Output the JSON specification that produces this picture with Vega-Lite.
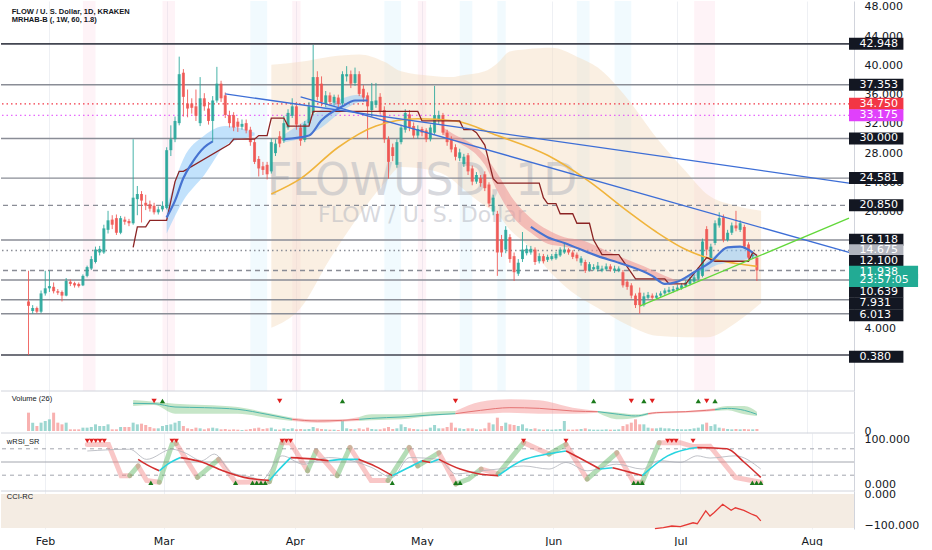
{
"$schema":"https://vega.github.io/schema/vega-lite/v6.json",
"padding":0,
"background":"white",
"spacing":0,
"bounds":"flush",
"resolve":{"scale":{"x":"independent","y":"independent"}},
"config":{"view":{"stroke":null},"axis":{"labelFont":"DejaVu Sans","labelFontSize":11,"labelColor":"#131722"}},
"datasets":{
"candles":[
{"d":"2021-01-27","o":7.7,"h":11.9,"l":0.38,"c":7.1,"v":55},
{"d":"2021-01-28","o":6.4,"h":7.2,"l":6.0,"c":6.8,"v":25},
{"d":"2021-01-29","o":6.8,"h":7.0,"l":6.1,"c":6.3,"v":15},
{"d":"2021-01-30","o":6.3,"h":9.2,"l":6.1,"c":8.8,"v":25},
{"d":"2021-01-31","o":8.8,"h":11.9,"l":8.5,"c":9.5,"v":30},
{"d":"2021-02-01","o":9.5,"h":11.9,"l":9.0,"c":9.8,"v":35},
{"d":"2021-02-02","o":9.7,"h":10.3,"l":8.8,"c":9.1,"v":55},
{"d":"2021-02-03","o":9.1,"h":9.4,"l":8.6,"c":8.9,"v":25},
{"d":"2021-02-04","o":9.0,"h":9.2,"l":7.7,"c":8.5,"v":20},
{"d":"2021-02-05","o":8.5,"h":10.9,"l":8.4,"c":10.5,"v":25},
{"d":"2021-02-06","o":10.4,"h":10.7,"l":9.8,"c":10.1,"v":5},
{"d":"2021-02-07","o":10.2,"h":10.4,"l":9.6,"c":9.9,"v":5},
{"d":"2021-02-08","o":10.1,"h":10.3,"l":9.6,"c":9.8,"v":5},
{"d":"2021-02-09","o":9.9,"h":11.4,"l":9.8,"c":11.2,"v":10},
{"d":"2021-02-10","o":11.2,"h":12.6,"l":11.0,"c":12.4,"v":10},
{"d":"2021-02-11","o":12.2,"h":13.9,"l":12.0,"c":13.5,"v":12},
{"d":"2021-02-12","o":13.1,"h":15.2,"l":12.9,"c":14.8,"v":20},
{"d":"2021-02-13","o":14.4,"h":15.3,"l":14.0,"c":14.9,"v":15},
{"d":"2021-02-14","o":14.4,"h":18.2,"l":14.2,"c":17.7,"v":15},
{"d":"2021-02-15","o":17.5,"h":20.1,"l":17.0,"c":18.8,"v":20},
{"d":"2021-02-16","o":18.9,"h":19.5,"l":17.6,"c":18.2,"v":5},
{"d":"2021-02-17","o":19.1,"h":19.6,"l":16.8,"c":17.1,"v":5},
{"d":"2021-02-18","o":17.1,"h":19.4,"l":16.9,"c":19.1,"v":12},
{"d":"2021-02-19","o":18.9,"h":19.3,"l":18.2,"c":18.6,"v":12},
{"d":"2021-02-20","o":18.7,"h":19.0,"l":18.0,"c":18.4,"v":12},
{"d":"2021-02-21","o":18.4,"h":29.9,"l":18.2,"c":21.9,"v":25},
{"d":"2021-02-22","o":21.7,"h":23.5,"l":19.5,"c":22.4,"v":20},
{"d":"2021-02-23","o":22.4,"h":22.8,"l":18.5,"c":21.5,"v":22},
{"d":"2021-02-24","o":21.2,"h":22.3,"l":20.2,"c":20.8,"v":18},
{"d":"2021-02-25","o":21.0,"h":21.5,"l":20.0,"c":20.4,"v":12},
{"d":"2021-02-26","o":20.8,"h":21.2,"l":19.6,"c":19.9,"v":8},
{"d":"2021-02-27","o":19.9,"h":20.7,"l":19.6,"c":20.3,"v":8},
{"d":"2021-02-28","o":20.3,"h":21.4,"l":20.0,"c":20.8,"v":15},
{"d":"2021-03-01","o":20.5,"h":28.8,"l":20.3,"c":28.4,"v":18},
{"d":"2021-03-02","o":28.4,"h":31.8,"l":27.6,"c":29.9,"v":20},
{"d":"2021-03-03","o":29.9,"h":33.0,"l":29.5,"c":32.4,"v":25},
{"d":"2021-03-04","o":32.1,"h":41.2,"l":31.8,"c":38.8,"v":30},
{"d":"2021-03-05","o":39.0,"h":39.5,"l":33.0,"c":35.7,"v":15},
{"d":"2021-03-06","o":34.8,"h":36.7,"l":32.9,"c":34.1,"v":8},
{"d":"2021-03-07","o":34.8,"h":35.5,"l":33.4,"c":34.2,"v":6},
{"d":"2021-03-08","o":34.4,"h":36.7,"l":32.4,"c":33.1,"v":10},
{"d":"2021-03-09","o":32.1,"h":38.4,"l":31.7,"c":35.5,"v":8},
{"d":"2021-03-10","o":35.5,"h":36.2,"l":33.8,"c":34.4,"v":5},
{"d":"2021-03-11","o":34.1,"h":35.0,"l":31.9,"c":32.4,"v":8},
{"d":"2021-03-12","o":32.4,"h":35.8,"l":29.5,"c":35.2,"v":10},
{"d":"2021-03-13","o":35.2,"h":39.8,"l":34.9,"c":37.5,"v":8},
{"d":"2021-03-14","o":37.5,"h":37.9,"l":35.0,"c":35.5,"v":5},
{"d":"2021-03-15","o":35.9,"h":36.3,"l":32.8,"c":33.2,"v":6},
{"d":"2021-03-16","o":33.2,"h":33.8,"l":31.5,"c":32.1,"v":4},
{"d":"2021-03-17","o":33.2,"h":33.6,"l":31.0,"c":31.5,"v":5},
{"d":"2021-03-18","o":32.3,"h":32.8,"l":30.9,"c":31.6,"v":4},
{"d":"2021-03-19","o":31.6,"h":32.6,"l":31.2,"c":32.0,"v":3},
{"d":"2021-03-20","o":32.1,"h":32.6,"l":30.7,"c":31.1,"v":4},
{"d":"2021-03-21","o":31.2,"h":31.6,"l":29.0,"c":29.5,"v":6},
{"d":"2021-03-22","o":29.5,"h":30.0,"l":26.5,"c":26.8,"v":8},
{"d":"2021-03-23","o":27.2,"h":27.6,"l":24.8,"c":25.9,"v":10},
{"d":"2021-03-24","o":26.2,"h":26.8,"l":25.0,"c":25.7,"v":6},
{"d":"2021-03-25","o":26.4,"h":26.8,"l":24.4,"c":25.1,"v":8},
{"d":"2021-03-26","o":25.5,"h":30.0,"l":25.2,"c":29.5,"v":10},
{"d":"2021-03-27","o":28.0,"h":29.9,"l":27.6,"c":29.3,"v":5},
{"d":"2021-03-28","o":30.3,"h":31.0,"l":28.8,"c":29.3,"v":4},
{"d":"2021-03-29","o":29.7,"h":33.1,"l":29.4,"c":32.1,"v":8},
{"d":"2021-03-30","o":31.5,"h":34.0,"l":31.2,"c":33.5,"v":6},
{"d":"2021-03-31","o":33.1,"h":35.5,"l":32.8,"c":34.4,"v":8},
{"d":"2021-04-01","o":34.4,"h":35.0,"l":31.2,"c":31.9,"v":5},
{"d":"2021-04-02","o":31.5,"h":32.0,"l":29.0,"c":29.7,"v":6},
{"d":"2021-04-03","o":29.8,"h":32.4,"l":29.5,"c":32.0,"v":5},
{"d":"2021-04-04","o":32.1,"h":35.0,"l":31.9,"c":34.4,"v":6},
{"d":"2021-04-05","o":33.5,"h":42.8,"l":33.2,"c":38.4,"v":12},
{"d":"2021-04-06","o":38.4,"h":39.2,"l":35.2,"c":35.7,"v":8},
{"d":"2021-04-07","o":37.5,"h":38.5,"l":34.4,"c":35.0,"v":6},
{"d":"2021-04-08","o":34.8,"h":36.5,"l":34.3,"c":35.9,"v":5},
{"d":"2021-04-09","o":35.9,"h":36.3,"l":34.5,"c":35.0,"v":4},
{"d":"2021-04-10","o":34.9,"h":36.0,"l":34.5,"c":35.7,"v":4},
{"d":"2021-04-11","o":35.6,"h":36.0,"l":34.3,"c":34.7,"v":3},
{"d":"2021-04-12","o":34.8,"h":39.2,"l":34.5,"c":38.8,"v":30},
{"d":"2021-04-13","o":38.5,"h":39.9,"l":37.8,"c":38.8,"v":8},
{"d":"2021-04-14","o":38.8,"h":39.3,"l":36.9,"c":37.5,"v":6},
{"d":"2021-04-15","o":37.6,"h":39.7,"l":37.2,"c":38.8,"v":5},
{"d":"2021-04-16","o":38.8,"h":39.2,"l":35.8,"c":36.1,"v":8},
{"d":"2021-04-17","o":36.8,"h":37.3,"l":35.0,"c":35.6,"v":5},
{"d":"2021-04-18","o":35.9,"h":36.3,"l":29.9,"c":34.4,"v":10},
{"d":"2021-04-19","o":33.9,"h":37.6,"l":33.0,"c":35.1,"v":6},
{"d":"2021-04-20","o":34.6,"h":37.6,"l":34.2,"c":35.2,"v":5},
{"d":"2021-04-21","o":35.7,"h":36.2,"l":33.3,"c":33.7,"v":5},
{"d":"2021-04-22","o":33.9,"h":34.4,"l":29.4,"c":29.9,"v":8},
{"d":"2021-04-23","o":29.9,"h":30.3,"l":24.5,"c":26.8,"v":12},
{"d":"2021-04-24","o":28.8,"h":29.3,"l":26.9,"c":27.6,"v":6},
{"d":"2021-04-25","o":26.4,"h":29.9,"l":26.0,"c":29.5,"v":8},
{"d":"2021-04-26","o":29.5,"h":31.9,"l":29.2,"c":31.5,"v":20},
{"d":"2021-04-27","o":31.2,"h":34.0,"l":30.8,"c":33.5,"v":12},
{"d":"2021-04-28","o":33.3,"h":33.9,"l":31.0,"c":31.5,"v":8},
{"d":"2021-04-29","o":31.7,"h":32.2,"l":30.0,"c":30.4,"v":6},
{"d":"2021-04-30","o":30.4,"h":31.8,"l":30.0,"c":31.3,"v":5},
{"d":"2021-05-01","o":31.3,"h":31.6,"l":30.3,"c":30.8,"v":4},
{"d":"2021-05-02","o":31.1,"h":31.4,"l":29.5,"c":29.9,"v":5},
{"d":"2021-05-03","o":29.9,"h":31.9,"l":29.6,"c":31.5,"v":10},
{"d":"2021-05-04","o":30.8,"h":37.2,"l":30.5,"c":33.2,"v":18},
{"d":"2021-05-05","o":32.5,"h":33.8,"l":32.0,"c":33.2,"v":8},
{"d":"2021-05-06","o":33.2,"h":33.5,"l":30.5,"c":30.8,"v":8},
{"d":"2021-05-07","o":30.8,"h":31.2,"l":29.0,"c":29.5,"v":12},
{"d":"2021-05-08","o":29.9,"h":30.3,"l":28.1,"c":28.5,"v":25},
{"d":"2021-05-09","o":28.8,"h":29.2,"l":27.0,"c":27.5,"v":10},
{"d":"2021-05-10","o":27.3,"h":28.6,"l":26.9,"c":28.1,"v":8},
{"d":"2021-05-11","o":26.5,"h":27.9,"l":26.1,"c":27.5,"v":6},
{"d":"2021-05-12","o":27.7,"h":28.0,"l":25.0,"c":25.5,"v":8},
{"d":"2021-05-13","o":25.9,"h":26.3,"l":23.6,"c":24.1,"v":8},
{"d":"2021-05-14","o":24.1,"h":25.4,"l":23.8,"c":25.0,"v":5},
{"d":"2021-05-15","o":24.6,"h":25.0,"l":23.4,"c":23.9,"v":5},
{"d":"2021-05-16","o":25.1,"h":25.5,"l":22.8,"c":23.2,"v":8},
{"d":"2021-05-17","o":23.7,"h":24.0,"l":20.6,"c":21.1,"v":25},
{"d":"2021-05-18","o":20.0,"h":22.3,"l":19.5,"c":21.9,"v":20},
{"d":"2021-05-19","o":19.7,"h":20.1,"l":11.2,"c":14.4,"v":40},
{"d":"2021-05-20","o":16.2,"h":16.8,"l":13.8,"c":14.4,"v":15},
{"d":"2021-05-21","o":14.8,"h":18.0,"l":14.3,"c":17.5,"v":25},
{"d":"2021-05-22","o":16.5,"h":16.9,"l":13.0,"c":13.5,"v":20},
{"d":"2021-05-23","o":13.9,"h":14.4,"l":10.5,"c":11.7,"v":18},
{"d":"2021-05-24","o":11.5,"h":13.5,"l":11.2,"c":13.0,"v":15},
{"d":"2021-05-25","o":13.5,"h":17.2,"l":13.1,"c":14.8,"v":20},
{"d":"2021-05-26","o":14.3,"h":15.4,"l":14.0,"c":14.9,"v":8},
{"d":"2021-05-27","o":14.4,"h":15.3,"l":14.1,"c":14.9,"v":6},
{"d":"2021-05-28","o":14.8,"h":15.1,"l":12.7,"c":13.1,"v":8},
{"d":"2021-05-29","o":13.2,"h":14.3,"l":12.9,"c":13.9,"v":5},
{"d":"2021-05-30","o":13.9,"h":14.2,"l":12.9,"c":13.2,"v":4},
{"d":"2021-05-31","o":13.4,"h":14.1,"l":13.1,"c":13.8,"v":5},
{"d":"2021-06-01","o":13.5,"h":14.2,"l":13.3,"c":13.9,"v":4},
{"d":"2021-06-02","o":13.6,"h":14.5,"l":13.4,"c":14.2,"v":5},
{"d":"2021-06-03","o":14.0,"h":15.1,"l":13.8,"c":14.8,"v":6},
{"d":"2021-06-04","o":14.4,"h":15.6,"l":14.2,"c":14.8,"v":30},
{"d":"2021-06-05","o":14.8,"h":15.0,"l":14.1,"c":14.4,"v":4},
{"d":"2021-06-06","o":14.4,"h":14.7,"l":13.5,"c":13.8,"v":4},
{"d":"2021-06-07","o":14.1,"h":14.4,"l":13.2,"c":13.6,"v":5},
{"d":"2021-06-08","o":13.0,"h":13.9,"l":12.6,"c":13.6,"v":6},
{"d":"2021-06-09","o":13.1,"h":13.4,"l":11.6,"c":11.9,"v":8},
{"d":"2021-06-10","o":12.0,"h":13.1,"l":11.8,"c":12.8,"v":5},
{"d":"2021-06-11","o":12.1,"h":12.8,"l":11.9,"c":12.4,"v":4},
{"d":"2021-06-12","o":12.1,"h":13.1,"l":11.8,"c":12.6,"v":4},
{"d":"2021-06-13","o":11.9,"h":12.6,"l":11.7,"c":12.2,"v":4},
{"d":"2021-06-14","o":12.1,"h":12.9,"l":11.9,"c":12.5,"v":5},
{"d":"2021-06-15","o":12.5,"h":12.8,"l":11.8,"c":12.1,"v":4},
{"d":"2021-06-16","o":11.9,"h":12.6,"l":11.6,"c":12.2,"v":4},
{"d":"2021-06-17","o":11.9,"h":12.5,"l":11.7,"c":12.2,"v":5},
{"d":"2021-06-18","o":11.7,"h":12.0,"l":9.6,"c":9.9,"v":15},
{"d":"2021-06-19","o":10.4,"h":10.7,"l":9.3,"c":9.7,"v":20},
{"d":"2021-06-20","o":9.9,"h":10.2,"l":8.1,"c":8.5,"v":25},
{"d":"2021-06-21","o":8.5,"h":8.8,"l":6.8,"c":7.2,"v":35},
{"d":"2021-06-22","o":8.9,"h":9.6,"l":6.0,"c":7.2,"v":20},
{"d":"2021-06-23","o":7.2,"h":8.9,"l":7.0,"c":8.4,"v":20},
{"d":"2021-06-24","o":8.2,"h":9.0,"l":8.0,"c":8.6,"v":10},
{"d":"2021-06-25","o":8.5,"h":8.8,"l":7.9,"c":8.2,"v":8},
{"d":"2021-06-26","o":8.2,"h":8.9,"l":8.0,"c":8.5,"v":8},
{"d":"2021-06-27","o":8.5,"h":9.1,"l":8.3,"c":8.8,"v":10},
{"d":"2021-06-28","o":8.8,"h":9.5,"l":8.6,"c":9.2,"v":8},
{"d":"2021-06-29","o":9.0,"h":9.7,"l":8.8,"c":9.3,"v":8},
{"d":"2021-06-30","o":9.1,"h":9.8,"l":8.9,"c":9.4,"v":6},
{"d":"2021-07-01","o":9.3,"h":10.0,"l":9.1,"c":9.6,"v":6},
{"d":"2021-07-02","o":9.5,"h":10.2,"l":9.3,"c":9.9,"v":5},
{"d":"2021-07-03","o":9.8,"h":10.6,"l":9.6,"c":10.3,"v":5},
{"d":"2021-07-04","o":10.1,"h":11.1,"l":9.9,"c":10.8,"v":6},
{"d":"2021-07-05","o":10.4,"h":11.4,"l":10.2,"c":11.0,"v":8},
{"d":"2021-07-06","o":10.8,"h":12.4,"l":10.6,"c":11.9,"v":10},
{"d":"2021-07-07","o":11.2,"h":16.3,"l":11.0,"c":15.9,"v":20},
{"d":"2021-07-08","o":17.6,"h":18.0,"l":14.0,"c":14.8,"v":25},
{"d":"2021-07-09","o":13.5,"h":15.6,"l":13.2,"c":15.2,"v":15},
{"d":"2021-07-10","o":15.7,"h":18.8,"l":15.4,"c":18.4,"v":20},
{"d":"2021-07-11","o":18.1,"h":19.9,"l":17.8,"c":19.1,"v":10},
{"d":"2021-07-12","o":19.2,"h":19.6,"l":15.8,"c":16.1,"v":8},
{"d":"2021-07-13","o":16.1,"h":17.5,"l":15.9,"c":17.1,"v":6},
{"d":"2021-07-14","o":17.1,"h":18.5,"l":16.8,"c":18.1,"v":5},
{"d":"2021-07-15","o":18.1,"h":20.1,"l":17.3,"c":17.7,"v":6},
{"d":"2021-07-16","o":17.5,"h":18.8,"l":17.2,"c":18.4,"v":5},
{"d":"2021-07-17","o":17.9,"h":18.2,"l":14.9,"c":15.2,"v":6},
{"d":"2021-07-18","o":15.5,"h":15.8,"l":13.4,"c":13.7,"v":5},
{"d":"2021-07-19","o":13.9,"h":14.4,"l":13.6,"c":14.1,"v":5},
{"d":"2021-07-20","o":13.7,"h":14.1,"l":10.5,"c":11.938,"v":6}
],
"cloud":[
{"d":"2021-03-26","up":40.1,"lo":4.1},
{"d":"2021-04-02","up":40.5,"lo":6.8},
{"d":"2021-04-09","up":41.2,"lo":13.5},
{"d":"2021-04-16","up":41.5,"lo":19.5},
{"d":"2021-04-22","up":40.5,"lo":23.9},
{"d":"2021-04-26","up":39.2,"lo":26.1},
{"d":"2021-05-03","up":38.6,"lo":25.7},
{"d":"2021-05-08","up":38.4,"lo":24.5},
{"d":"2021-05-10","up":38.6,"lo":23.5},
{"d":"2021-05-16","up":39.2,"lo":20.8},
{"d":"2021-05-19","up":40.3,"lo":19.7},
{"d":"2021-05-22","up":41.9,"lo":17.5},
{"d":"2021-05-26","up":42.2,"lo":15.5},
{"d":"2021-06-01","up":42.4,"lo":11.5},
{"d":"2021-06-07","up":41.2,"lo":8.5},
{"d":"2021-06-12","up":39.7,"lo":6.8},
{"d":"2021-06-19","up":35.5,"lo":4.5},
{"d":"2021-06-26","up":30.1,"lo":3.0},
{"d":"2021-07-03","up":25.5,"lo":2.8},
{"d":"2021-07-08","up":22.4,"lo":2.8},
{"d":"2021-07-15","up":20.8,"lo":4.8},
{"d":"2021-07-21","up":20.1,"lo":7.5}
],
"levels":[
{"p":42.948,"k":"major","s":"solid"},
{"p":37.353,"k":"minor","s":"solid"},
{"p":34.75,"k":"red","s":"dot"},
{"p":33.175,"k":"mag","s":"dot"},
{"p":30.0,"k":"minor","s":"solid"},
{"p":24.581,"k":"minor","s":"solid"},
{"p":20.85,"k":"minor","s":"dash"},
{"p":16.118,"k":"minor","s":"solid"},
{"p":14.675,"k":"minor","s":"dot"},
{"p":11.938,"k":"minor","s":"dash"},
{"p":10.639,"k":"minor","s":"solid"},
{"p":7.931,"k":"minor","s":"solid"},
{"p":6.013,"k":"minor","s":"solid"},
{"p":0.38,"k":"major","s":"solid"}
],
"lbl":[
{"lp":42.948,"t":"42.948","k":"box"},
{"lp":37.353,"t":"37.353","k":"box"},
{"lp":34.75,"t":"34.750","k":"red"},
{"lp":33.175,"t":"33.175","k":"mag"},
{"lp":30.0,"t":"30.000","k":"box"},
{"lp":24.581,"t":"24.581","k":"box"},
{"lp":20.85,"t":"20.850","k":"box"},
{"lp":16.13,"t":"16.118","k":"box"},
{"lp":14.7,"t":"14.675","k":"gray"},
{"lp":13.24,"t":"12.100","k":"box"},
{"lp":11.69,"t":"11.938","k":"cur"},
{"lp":10.57,"t":"23:57:05","k":"cur"},
{"lp":9.02,"t":"10.639","k":"box"},
{"lp":7.42,"t":"7.931","k":"box"},
{"lp":5.82,"t":"6.013","k":"box"},
{"lp":0.13,"t":"0.380","k":"box"}
],
"stripes":[
{"s":"2021-02-09","e":"2021-02-12","k":"p"},
{"s":"2021-02-28","e":"2021-03-03","k":"p"},
{"s":"2021-03-21","e":"2021-03-25","k":"b"},
{"s":"2021-03-31","e":"2021-04-02","k":"p"},
{"s":"2021-04-22","e":"2021-04-26","k":"b"},
{"s":"2021-04-30","e":"2021-05-02","k":"p"},
{"s":"2021-05-10","e":"2021-05-13","k":"b"},
{"s":"2021-05-19","e":"2021-05-21","k":"b"},
{"s":"2021-06-07","e":"2021-06-10","k":"b"},
{"s":"2021-06-16","e":"2021-06-20","k":"b"},
{"s":"2021-07-05","e":"2021-07-10","k":"p"}
],
"pinkrib":[
{"d":"2021-05-06","u":31.5,"lo":30.5},
{"d":"2021-05-08","u":30.8,"lo":29.9},
{"d":"2021-05-16","u":27.7,"lo":26.4},
{"d":"2021-05-19","u":25.2,"lo":22.8},
{"d":"2021-05-23","u":21.5,"lo":19.1},
{"d":"2021-05-27","u":19.1,"lo":17.1},
{"d":"2021-05-31","u":17.5,"lo":15.6},
{"d":"2021-06-04","u":16.5,"lo":15.2},
{"d":"2021-06-08","u":16.1,"lo":14.8},
{"d":"2021-06-12","u":15.2,"lo":13.9},
{"d":"2021-06-17","u":13.9,"lo":13.1},
{"d":"2021-06-23","u":12.5,"lo":11.7},
{"d":"2021-06-28","u":11.2,"lo":10.4},
{"d":"2021-07-01","u":10.5,"lo":10.3}
],
"blueband":[
{"d":"2021-03-01","u":20.5,"lo":17.0,"g":"a"},
{"d":"2021-03-05","u":27.2,"lo":21.5,"g":"a"},
{"d":"2021-03-10","u":30.4,"lo":25.0,"g":"a"},
{"d":"2021-03-15","u":31.7,"lo":29.0,"g":"a"},
{"d":"2021-03-20","u":31.2,"lo":30.1,"g":"a"},
{"d":"2021-03-22","u":30.8,"lo":30.4,"g":"a"},
{"d":"2021-03-29","u":30.5,"lo":29.5,"g":"b"},
{"d":"2021-04-02","u":32.0,"lo":30.0,"g":"b"},
{"d":"2021-04-07","u":34.0,"lo":31.5,"g":"b"},
{"d":"2021-04-12","u":35.5,"lo":33.8,"g":"b"},
{"d":"2021-04-16","u":36.0,"lo":35.0,"g":"b"},
{"d":"2021-04-18","u":35.5,"lo":35.2,"g":"b"},
{"d":"2021-07-03","u":11.0,"lo":10.6,"g":"c"},
{"d":"2021-07-07","u":12.8,"lo":11.6,"g":"c"},
{"d":"2021-07-10","u":14.0,"lo":12.6,"g":"c"},
{"d":"2021-07-13","u":15.1,"lo":13.0,"g":"c"},
{"d":"2021-07-16","u":15.3,"lo":13.3,"g":"c"},
{"d":"2021-07-19","u":14.5,"lo":13.6,"g":"c"},
{"d":"2021-07-20","u":14.2,"lo":13.8,"g":"c"}
],
"blueline":[
{"d":"2021-03-01","p":19.2,"g":"a"},
{"d":"2021-03-03","p":21.5,"g":"a"},
{"d":"2021-03-05","p":24.6,"g":"a"},
{"d":"2021-03-07","p":26.6,"g":"a"},
{"d":"2021-03-10","p":28.8,"g":"a"},
{"d":"2021-03-12","p":29.6,"g":"a"},
{"d":"2021-03-29","p":29.9,"g":"b"},
{"d":"2021-04-04","p":30.4,"g":"b"},
{"d":"2021-04-07","p":32.5,"g":"b"},
{"d":"2021-04-12","p":34.4,"g":"b"},
{"d":"2021-04-15","p":35.2,"g":"b"},
{"d":"2021-04-18","p":35.2,"g":"b"},
{"d":"2021-05-27","p":17.9,"g":"c"},
{"d":"2021-05-31","p":16.5,"g":"c"},
{"d":"2021-06-04","p":15.7,"g":"c"},
{"d":"2021-06-12","p":13.9,"g":"c"},
{"d":"2021-06-17","p":13.0,"g":"c"},
{"d":"2021-06-25","p":11.2,"g":"c"},
{"d":"2021-06-28","p":10.1,"g":"c"},
{"d":"2021-07-01","p":10.4,"g":"c"},
{"d":"2021-07-05","p":11.7,"g":"c"},
{"d":"2021-07-09","p":13.1,"g":"c"},
{"d":"2021-07-13","p":15.1,"g":"c"},
{"d":"2021-07-16","p":15.2,"g":"c"},
{"d":"2021-07-19","p":14.4,"g":"c"}
],
"ma":[
{"d":"2021-03-26","p":22.4},
{"d":"2021-04-02","p":24.5},
{"d":"2021-04-11","p":28.8},
{"d":"2021-04-20","p":31.7},
{"d":"2021-04-30","p":32.7},
{"d":"2021-05-09","p":32.4},
{"d":"2021-05-19","p":30.4},
{"d":"2021-05-31","p":27.7},
{"d":"2021-06-10","p":24.1},
{"d":"2021-06-19","p":20.1},
{"d":"2021-06-26","p":17.2},
{"d":"2021-07-03","p":14.8},
{"d":"2021-07-08","p":13.7},
{"d":"2021-07-15","p":12.9},
{"d":"2021-07-20","p":12.5}
],
"mrhab":[
{"d":"2021-02-21","p":15.1},
{"d":"2021-02-22","p":17.9},
{"d":"2021-02-24","p":17.9},
{"d":"2021-02-25","p":18.8},
{"d":"2021-03-01","p":18.8},
{"d":"2021-03-03","p":24.1},
{"d":"2021-03-04","p":25.5},
{"d":"2021-03-05","p":25.5},
{"d":"2021-03-16","p":29.2},
{"d":"2021-03-17","p":29.9},
{"d":"2021-03-22","p":29.9},
{"d":"2021-03-23","p":30.4},
{"d":"2021-03-25","p":30.4},
{"d":"2021-03-26","p":32.8},
{"d":"2021-03-29","p":32.8},
{"d":"2021-03-30","p":31.7},
{"d":"2021-04-04","p":31.7},
{"d":"2021-04-05","p":33.7},
{"d":"2021-04-30","p":33.7},
{"d":"2021-05-01","p":32.4},
{"d":"2021-05-10","p":32.4},
{"d":"2021-05-11","p":31.2},
{"d":"2021-05-13","p":31.2},
{"d":"2021-05-14","p":30.8},
{"d":"2021-05-16","p":29.1},
{"d":"2021-05-18","p":24.5},
{"d":"2021-05-19","p":23.9},
{"d":"2021-05-29","p":23.9},
{"d":"2021-05-30","p":21.9},
{"d":"2021-05-31","p":21.1},
{"d":"2021-06-02","p":21.1},
{"d":"2021-06-03","p":19.7},
{"d":"2021-06-06","p":19.7},
{"d":"2021-06-07","p":18.4},
{"d":"2021-06-10","p":18.4},
{"d":"2021-06-11","p":16.1},
{"d":"2021-06-13","p":14.1},
{"d":"2021-06-17","p":14.1},
{"d":"2021-06-21","p":10.8},
{"d":"2021-06-28","p":10.8},
{"d":"2021-06-29","p":10.1},
{"d":"2021-07-03","p":10.1},
{"d":"2021-07-08","p":13.7},
{"d":"2021-07-10","p":13.2},
{"d":"2021-07-18","p":13.2},
{"d":"2021-07-19","p":14.4},
{"d":"2021-07-20","p":14.0}
],
"trend":[
{"id":"t1","d":"2021-03-15","p":36.1},
{"id":"t1","d":"2021-08-11","p":23.9},
{"id":"t2","d":"2021-04-02","p":35.7},
{"id":"t2","d":"2021-08-11","p":14.4},
{"id":"g","d":"2021-06-22","p":7.07},
{"id":"g","d":"2021-08-11","p":19.1}
],
"volc":[
{"d":"2021-02-21","m":83,"u":93,"lo":75,"g":1,"c":"up"},
{"d":"2021-02-26","m":82,"u":88,"lo":78,"g":1,"c":"up"},
{"d":"2021-03-03","m":72,"u":82,"lo":52,"g":1,"c":"up"},
{"d":"2021-03-10","m":70,"u":78,"lo":52,"g":1,"c":"up"},
{"d":"2021-03-18","m":65,"u":72,"lo":52,"g":1,"c":"up"},
{"d":"2021-03-25","m":50,"u":55,"lo":40,"g":1,"c":"up"},
{"d":"2021-03-31","m":35,"u":40,"lo":30,"g":1,"c":"up"},
{"d":"2021-03-31","m":35,"u":40,"lo":30,"g":2,"c":"dn"},
{"d":"2021-04-06","m":30,"u":35,"lo":25,"g":2,"c":"dn"},
{"d":"2021-04-12","m":32,"u":35,"lo":28,"g":2,"c":"dn"},
{"d":"2021-04-16","m":35,"u":42,"lo":30,"g":2,"c":"dn"},
{"d":"2021-04-16","m":35,"u":42,"lo":30,"g":3,"c":"up"},
{"d":"2021-04-19","m":38,"u":50,"lo":32,"g":3,"c":"up"},
{"d":"2021-04-26","m":42,"u":50,"lo":35,"g":3,"c":"up"},
{"d":"2021-05-03","m":48,"u":58,"lo":45,"g":3,"c":"up"},
{"d":"2021-05-09","m":52,"u":60,"lo":50,"g":3,"c":"up"},
{"d":"2021-05-09","m":52,"u":60,"lo":50,"g":4,"c":"dn"},
{"d":"2021-05-15","m":62,"u":88,"lo":52,"g":4,"c":"dn"},
{"d":"2021-05-22","m":70,"u":95,"lo":55,"g":4,"c":"dn"},
{"d":"2021-05-29","m":68,"u":92,"lo":52,"g":4,"c":"dn"},
{"d":"2021-06-06","m":60,"u":70,"lo":52,"g":4,"c":"dn"},
{"d":"2021-06-12","m":58,"u":60,"lo":55,"g":4,"c":"dn"},
{"d":"2021-06-12","m":58,"u":60,"lo":55,"g":5,"c":"up"},
{"d":"2021-06-17","m":50,"u":55,"lo":35,"g":5,"c":"up"},
{"d":"2021-06-21","m":45,"u":50,"lo":40,"g":5,"c":"up"},
{"d":"2021-06-24","m":52,"u":55,"lo":48,"g":5,"c":"up"},
{"d":"2021-06-24","m":52,"u":55,"lo":48,"g":6,"c":"dn"},
{"d":"2021-06-26","m":55,"u":58,"lo":52,"g":6,"c":"dn"},
{"d":"2021-07-03","m":58,"u":60,"lo":55,"g":6,"c":"dn"},
{"d":"2021-07-08","m":62,"u":65,"lo":58,"g":6,"c":"dn"},
{"d":"2021-07-10","m":64,"u":68,"lo":60,"g":6,"c":"dn"},
{"d":"2021-07-10","m":64,"u":68,"lo":60,"g":7,"c":"up"},
{"d":"2021-07-13","m":68,"u":75,"lo":62,"g":7,"c":"up"},
{"d":"2021-07-17","m":62,"u":75,"lo":50,"g":7,"c":"up"},
{"d":"2021-07-20","m":50,"u":58,"lo":45,"g":7,"c":"up"}
],
"voltri":[
{"d":"2021-02-26","t":"dn"},{"d":"2021-02-28","t":"up"},{"d":"2021-03-28","t":"dn"},{"d":"2021-04-12","t":"up"},{"d":"2021-05-09","t":"dn"},{"d":"2021-06-11","t":"up"},{"d":"2021-06-20","t":"dn"},{"d":"2021-06-23","t":"up"},{"d":"2021-06-25","t":"dn"},{"d":"2021-07-06","t":"up"},{"d":"2021-07-08","t":"dn"},{"d":"2021-07-10","t":"up"}
],
"rsiband":[
{"d":"2021-02-11","v":90,"g":0,"c":"dn"},{"d":"2021-02-16","v":90,"g":0,"c":"dn"},{"d":"2021-02-19","v":19,"g":0,"c":"dn"},{"d":"2021-02-21","v":19,"g":0,"c":"dn"},
{"d":"2021-02-21","v":19,"g":1,"c":"up"},{"d":"2021-02-23","v":41,"g":1,"c":"up"},
{"d":"2021-02-23","v":41,"g":2,"c":"dn"},{"d":"2021-02-25","v":8,"g":2,"c":"dn"},{"d":"2021-02-28","v":4,"g":2,"c":"dn"},
{"d":"2021-02-28","v":4,"g":3,"c":"up"},{"d":"2021-03-03","v":90,"g":3,"c":"up"},{"d":"2021-03-04","v":92,"g":3,"c":"up"},
{"d":"2021-03-04","v":92,"g":4,"c":"dn"},{"d":"2021-03-09","v":15,"g":4,"c":"dn"},
{"d":"2021-03-09","v":15,"g":5,"c":"up"},{"d":"2021-03-14","v":56,"g":5,"c":"up"},
{"d":"2021-03-14","v":56,"g":6,"c":"dn"},{"d":"2021-03-18","v":4,"g":6,"c":"dn"},{"d":"2021-03-26","v":5,"g":6,"c":"dn"},
{"d":"2021-03-26","v":5,"g":7,"c":"up"},{"d":"2021-03-29","v":94,"g":7,"c":"up"},
{"d":"2021-03-29","v":94,"g":8,"c":"dn"},{"d":"2021-03-31","v":94,"g":8,"c":"dn"},{"d":"2021-04-04","v":30,"g":8,"c":"dn"},
{"d":"2021-04-04","v":30,"g":9,"c":"up"},{"d":"2021-04-06","v":75,"g":9,"c":"up"},
{"d":"2021-04-06","v":75,"g":10,"c":"dn"},{"d":"2021-04-11","v":19,"g":10,"c":"dn"},
{"d":"2021-04-11","v":19,"g":11,"c":"up"},{"d":"2021-04-14","v":83,"g":11,"c":"up"},
{"d":"2021-04-14","v":83,"g":12,"c":"dn"},{"d":"2021-04-19","v":8,"g":12,"c":"dn"},{"d":"2021-04-23","v":8,"g":12,"c":"dn"},
{"d":"2021-04-23","v":8,"g":13,"c":"up"},{"d":"2021-04-28","v":83,"g":13,"c":"up"},
{"d":"2021-04-28","v":83,"g":14,"c":"dn"},{"d":"2021-04-30","v":41,"g":14,"c":"dn"},
{"d":"2021-04-30","v":41,"g":15,"c":"up"},{"d":"2021-05-05","v":71,"g":15,"c":"up"},
{"d":"2021-05-05","v":71,"g":16,"c":"dn"},{"d":"2021-05-09","v":0,"g":16,"c":"dn"},
{"d":"2021-05-09","v":0,"g":17,"c":"up"},{"d":"2021-05-12","v":11,"g":17,"c":"up"},{"d":"2021-05-15","v":34,"g":17,"c":"up"},
{"d":"2021-05-15","v":34,"g":18,"c":"dn"},{"d":"2021-05-19","v":23,"g":18,"c":"dn"},
{"d":"2021-05-19","v":23,"g":19,"c":"up"},{"d":"2021-05-25","v":94,"g":19,"c":"up"},
{"d":"2021-05-25","v":94,"g":20,"c":"dn"},{"d":"2021-05-31","v":68,"g":20,"c":"dn"},
{"d":"2021-05-31","v":68,"g":21,"c":"up"},{"d":"2021-06-04","v":90,"g":21,"c":"up"},
{"d":"2021-06-04","v":90,"g":22,"c":"dn"},{"d":"2021-06-09","v":11,"g":22,"c":"dn"},
{"d":"2021-06-09","v":11,"g":23,"c":"up"},{"d":"2021-06-16","v":71,"g":23,"c":"up"},
{"d":"2021-06-16","v":71,"g":24,"c":"dn"},{"d":"2021-06-20","v":4,"g":24,"c":"dn"},{"d":"2021-06-22","v":4,"g":24,"c":"dn"},
{"d":"2021-06-22","v":4,"g":25,"c":"up"},{"d":"2021-06-26","v":94,"g":25,"c":"up"},
{"d":"2021-06-26","v":94,"g":26,"c":"dn"},{"d":"2021-07-01","v":94,"g":26,"c":"dn"},{"d":"2021-07-04","v":85,"g":26,"c":"dn"},{"d":"2021-07-08","v":86,"g":26,"c":"dn"},{"d":"2021-07-14","v":15,"g":26,"c":"dn"},{"d":"2021-07-20","v":4,"g":26,"c":"dn"}
],
"rsisig":[
{"d":"2021-02-23","v":56,"g":0,"c":"dn"},{"d":"2021-02-25","v":44,"g":0,"c":"dn"},{"d":"2021-02-28","v":30,"g":0,"c":"dn"},
{"d":"2021-02-28","v":30,"g":1,"c":"up"},{"d":"2021-03-02","v":45,"g":1,"c":"up"},{"d":"2021-03-05","v":60,"g":1,"c":"up"},
{"d":"2021-03-05","v":60,"g":2,"c":"dn"},{"d":"2021-03-10","v":50,"g":2,"c":"dn"},{"d":"2021-03-15","v":30,"g":2,"c":"dn"},{"d":"2021-03-20","v":15,"g":2,"c":"dn"},{"d":"2021-03-26","v":8,"g":2,"c":"dn"},
{"d":"2021-03-26","v":8,"g":3,"c":"up"},{"d":"2021-03-28","v":30,"g":3,"c":"up"},{"d":"2021-03-31","v":60,"g":3,"c":"up"},
{"d":"2021-03-31","v":60,"g":4,"c":"dn"},{"d":"2021-04-05","v":57,"g":4,"c":"dn"},{"d":"2021-04-09","v":53,"g":4,"c":"dn"},
{"d":"2021-04-09","v":53,"g":5,"c":"up"},{"d":"2021-04-13","v":56,"g":5,"c":"up"},{"d":"2021-04-16","v":56,"g":5,"c":"up"},
{"d":"2021-04-16","v":56,"g":6,"c":"dn"},{"d":"2021-04-20","v":40,"g":6,"c":"dn"},{"d":"2021-04-24","v":19,"g":6,"c":"dn"},
{"d":"2021-04-24","v":19,"g":7,"c":"up"},{"d":"2021-04-28","v":38,"g":7,"c":"up"},{"d":"2021-05-01","v":53,"g":7,"c":"up"},
{"d":"2021-05-01","v":53,"g":8,"c":"dn"},{"d":"2021-05-03","v":49,"g":8,"c":"dn"},
{"d":"2021-05-03","v":49,"g":9,"c":"up"},{"d":"2021-05-05","v":56,"g":9,"c":"up"},
{"d":"2021-05-05","v":56,"g":10,"c":"dn"},{"d":"2021-05-10","v":34,"g":10,"c":"dn"},{"d":"2021-05-14","v":24,"g":10,"c":"dn"},{"d":"2021-05-19","v":19,"g":10,"c":"dn"},
{"d":"2021-05-19","v":19,"g":11,"c":"up"},{"d":"2021-05-25","v":55,"g":11,"c":"up"},{"d":"2021-05-30","v":67,"g":11,"c":"up"},{"d":"2021-06-04","v":75,"g":11,"c":"up"},
{"d":"2021-06-04","v":75,"g":12,"c":"dn"},{"d":"2021-06-08","v":55,"g":12,"c":"dn"},{"d":"2021-06-12","v":34,"g":12,"c":"dn"},
{"d":"2021-06-12","v":34,"g":13,"c":"up"},{"d":"2021-06-15","v":37,"g":13,"c":"up"},
{"d":"2021-06-15","v":37,"g":14,"c":"dn"},{"d":"2021-06-19","v":27,"g":14,"c":"dn"},{"d":"2021-06-22","v":19,"g":14,"c":"dn"},
{"d":"2021-06-22","v":19,"g":15,"c":"up"},{"d":"2021-06-28","v":64,"g":15,"c":"up"},{"d":"2021-07-02","v":78,"g":15,"c":"up"},{"d":"2021-07-05","v":83,"g":15,"c":"up"},
{"d":"2021-07-05","v":83,"g":16,"c":"dn"},{"d":"2021-07-12","v":80,"g":16,"c":"dn"},{"d":"2021-07-16","v":50,"g":16,"c":"dn"},{"d":"2021-07-20","v":15,"g":16,"c":"dn"}
],
"rsigray":[
{"d":"2021-02-11","v":75},{"d":"2021-02-21","v":79},{"d":"2021-02-25","v":56},{"d":"2021-03-03","v":79},{"d":"2021-03-06","v":71},{"d":"2021-03-10","v":53},{"d":"2021-03-13","v":68},{"d":"2021-03-17","v":26},{"d":"2021-03-22","v":15},{"d":"2021-03-24","v":8},{"d":"2021-03-29","v":64},{"d":"2021-04-03","v":45},{"d":"2021-04-09","v":60},{"d":"2021-04-13","v":56},{"d":"2021-04-19","v":38},{"d":"2021-04-24","v":15},{"d":"2021-04-28","v":60},{"d":"2021-05-05","v":56},{"d":"2021-05-09","v":23},{"d":"2021-05-15","v":30},{"d":"2021-05-19","v":34},{"d":"2021-05-25","v":41},{"d":"2021-05-31","v":34},{"d":"2021-06-04","v":49},{"d":"2021-06-09","v":30},{"d":"2021-06-16","v":45},{"d":"2021-06-22","v":34},{"d":"2021-06-26","v":53},{"d":"2021-07-01","v":49},{"d":"2021-07-05","v":64},{"d":"2021-07-08","v":59},{"d":"2021-07-14","v":64},{"d":"2021-07-20","v":34}
],
"rsitri":[
{"d":"2021-02-11","v":98,"t":"dn"},{"d":"2021-02-12","v":98,"t":"dn"},{"d":"2021-02-13","v":98,"t":"dn"},{"d":"2021-02-14","v":98,"t":"dn"},{"d":"2021-02-15","v":98,"t":"dn"},
{"d":"2021-03-03","v":98,"t":"dn"},{"d":"2021-03-04","v":98,"t":"dn"},
{"d":"2021-03-29","v":98,"t":"dn"},{"d":"2021-03-30","v":98,"t":"dn"},{"d":"2021-03-31","v":98,"t":"dn"},
{"d":"2021-05-25","v":98,"t":"dn"},{"d":"2021-06-04","v":98,"t":"dn"},
{"d":"2021-06-28","v":98,"t":"dn"},{"d":"2021-06-29","v":98,"t":"dn"},{"d":"2021-06-30","v":98,"t":"dn"},{"d":"2021-07-04","v":98,"t":"dn"},
{"d":"2021-02-26","v":3,"t":"up"},{"d":"2021-03-18","v":3,"t":"up"},{"d":"2021-03-22","v":3,"t":"up"},{"d":"2021-03-23","v":3,"t":"up"},{"d":"2021-03-24","v":3,"t":"up"},{"d":"2021-03-25","v":3,"t":"up"},
{"d":"2021-04-24","v":3,"t":"up"},{"d":"2021-05-09","v":3,"t":"up"},{"d":"2021-05-10","v":3,"t":"up"},
{"d":"2021-06-20","v":3,"t":"up"},{"d":"2021-06-21","v":3,"t":"up"},{"d":"2021-06-22","v":3,"t":"up"},
{"d":"2021-07-18","v":3,"t":"up"},{"d":"2021-07-19","v":3,"t":"up"},{"d":"2021-07-20","v":3,"t":"up"}
],
"cci":[
{"d":"2021-06-25","v":-108},{"d":"2021-06-27","v":-105},{"d":"2021-06-29","v":-100},{"d":"2021-07-01","v":-102},{"d":"2021-07-04","v":-90},{"d":"2021-07-05","v":-93},{"d":"2021-07-07","v":-53},{"d":"2021-07-08","v":-69},{"d":"2021-07-09","v":-58},{"d":"2021-07-11","v":-32},{"d":"2021-07-13","v":-51},{"d":"2021-07-14","v":-43},{"d":"2021-07-16","v":-51},{"d":"2021-07-18","v":-64},{"d":"2021-07-19","v":-69},{"d":"2021-07-20","v":-84}
]
},
"vconcat":[
{
"width":853,"height":390,
"resolve":{"scale":{"color":"independent","size":"independent","strokeDash":"independent"}},
"layer":[
{"data":{"name":"stripes"},"mark":{"type":"rect","opacity":0.18},
 "encoding":{
  "x":{"field":"s","type":"temporal","title":null,
   "scale":{"type":"utc","domain":[{"year":2021,"month":1,"date":21,"hours":15,"utc":true},{"year":2021,"month":8,"date":11,"utc":true}]},
   "axis":{"labels":false,"ticks":false,"domain":false,"grid":true,"gridColor":"#eef0f4","title":null,
    "values":[{"year":2021,"month":2,"date":1,"utc":true},{"year":2021,"month":3,"date":1,"utc":true},{"year":2021,"month":4,"date":1,"utc":true},{"year":2021,"month":5,"date":1,"utc":true},{"year":2021,"month":6,"date":1,"utc":true},{"year":2021,"month":7,"date":1,"utc":true},{"year":2021,"month":8,"date":1,"utc":true}]}},
  "x2":{"field":"e"},
  "color":{"field":"k","type":"nominal","scale":{"domain":["p","b"],"range":["#f8bbd0","#b3e5fc"]},"legend":null}}},
{"data":{"name":"cloud"},"mark":{"type":"area","color":"#f3dcbf","opacity":0.45,"interpolate":"monotone"},
 "encoding":{
  "x":{"field":"d","type":"temporal","title":null},
  "y":{"field":"up","type":"quantitative","title":null,
   "scale":{"domain":[-3.87,48.13],"nice":false,"zero":false},
   "axis":{"orient":"right","title":null,"values":[4,20,24,28,32,36,40,44,48],"format":".3f","ticks":false,"domain":true,"domainColor":"#d1d4dc","labelPadding":10,"grid":false,"labelFlush":3}},
  "y2":{"field":"lo"}}},
{"data":{"values":[{"t":"FLOWUSD, 1D"}]},"mark":{"type":"text","font":"DejaVu Sans","fontSize":44,"color":"#b2b5be","opacity":0.5,"align":"center","baseline":"middle"},
 "encoding":{"x":{"datum":{"year":2021,"month":5,"date":1,"utc":true},"type":"temporal"},"y":{"datum":24.1},"text":{"field":"t"}}},
{"data":{"values":[{"t":"FLOW / U. S. Dollar"}]},"mark":{"type":"text","font":"DejaVu Sans","fontSize":22,"color":"#b2b5be","opacity":0.5,"align":"center","baseline":"middle"},
 "encoding":{"x":{"datum":{"year":2021,"month":5,"date":1,"utc":true},"type":"temporal"},"y":{"datum":19.5},"text":{"field":"t"}}},
{"data":{"name":"levels"},"mark":{"type":"rule"},
 "encoding":{
  "y":{"field":"p","type":"quantitative","title":null},
  "color":{"field":"k","type":"nominal","scale":{"domain":["major","minor","red","mag"],"range":["#434651","#8a8d96","#f23645","#e040fb"]},"legend":null},
  "size":{"field":"k","type":"nominal","scale":{"domain":["major","minor","red","mag"],"range":[1.6,1,1.2,1.2]},"legend":null},
  "strokeDash":{"field":"s","type":"nominal","scale":{"domain":["solid","dash","dot"],"range":[[1,0],[5,4],[1.5,3]]},"legend":null}}},
{"data":{"name":"pinkrib"},"mark":{"type":"area","color":"#ef9a9a","opacity":0.6,"interpolate":"monotone"},
 "encoding":{"x":{"field":"d","type":"temporal","title":null},"y":{"field":"u","type":"quantitative","title":null},"y2":{"field":"lo"}}},
{"data":{"name":"blueband"},"mark":{"type":"area","color":"#90caf9","opacity":0.55,"interpolate":"monotone"},
 "encoding":{"x":{"field":"d","type":"temporal","title":null},"y":{"field":"u","type":"quantitative","title":null},"y2":{"field":"lo"},"detail":{"field":"g"}}},
{"data":{"name":"candles"},"mark":{"type":"rule","strokeWidth":1,"opacity":0.85},
 "encoding":{"x":{"field":"d","type":"temporal","title":null},"y":{"field":"l","type":"quantitative","title":null},"y2":{"field":"h"},
  "color":{"condition":{"test":"datum.c >= datum.o","value":"#26a69a"},"value":"#ef5350"}}},
{"data":{"name":"candles"},"mark":{"type":"bar","width":3,"opacity":0.85},
 "encoding":{"x":{"field":"d","type":"temporal","title":null},"y":{"field":"o","type":"quantitative","title":null},"y2":{"field":"c"},
  "color":{"condition":{"test":"datum.c >= datum.o","value":"#26a69a"},"value":"#ef5350"}}},
{"data":{"name":"ma"},"mark":{"type":"line","color":"#f0b43c","strokeWidth":1.6,"interpolate":"monotone"},
 "encoding":{"x":{"field":"d","type":"temporal","title":null},"y":{"field":"p","type":"quantitative","title":null}}},
{"data":{"name":"mrhab"},"mark":{"type":"line","color":"#8b2323","strokeWidth":1.3},
 "encoding":{"x":{"field":"d","type":"temporal","title":null},"y":{"field":"p","type":"quantitative","title":null}}},
{"data":{"name":"blueline"},"mark":{"type":"line","color":"#4673d1","strokeWidth":2.2,"interpolate":"monotone"},
 "encoding":{"x":{"field":"d","type":"temporal","title":null},"y":{"field":"p","type":"quantitative","title":null},"detail":{"field":"g"}}},
{"data":{"name":"trend"},"mark":{"type":"line","strokeWidth":1.3},
 "encoding":{"x":{"field":"d","type":"temporal","title":null},"y":{"field":"p","type":"quantitative","title":null},"detail":{"field":"id"},
  "color":{"field":"id","type":"nominal","scale":{"domain":["t1","t2","g"],"range":["#3d6ed6","#3d6ed6","#62d83a"]},"legend":null}}},
{"data":{"name":"lbl"},"transform":[{"filter":"datum.k != 'cur'"}],"mark":{"type":"bar","height":12,"clip":false},
 "encoding":{"x":{"datum":{"year":2021,"month":8,"date":11,"utc":true},"type":"temporal"},"x2":{"datum":{"year":2021,"month":8,"date":24,"utc":true}},
  "y":{"field":"lp","type":"quantitative","title":null},
  "color":{"field":"k","type":"nominal","scale":{"domain":["box","red","mag","gray"],"range":["#131722","#f23645","#e040fb","#b2b5be"]},"legend":null}}},
{"data":{"name":"lbl"},"transform":[{"filter":"datum.k == 'cur'"}],"mark":{"type":"bar","height":13,"clip":false,"color":"#22ab94"},
 "encoding":{"x":{"datum":{"year":2021,"month":8,"date":11,"utc":true},"type":"temporal"},"x2":{"datum":{"year":2021,"month":8,"date":27,"hours":12,"utc":true}},
  "y":{"field":"lp","type":"quantitative","title":null}}},
{"data":{"name":"lbl"},"mark":{"type":"text","font":"DejaVu Sans","fontSize":11,"color":"white","align":"left","baseline":"middle","clip":false},
 "encoding":{"x":{"datum":{"year":2021,"month":8,"date":13,"hours":12,"utc":true},"type":"temporal"},"y":{"field":"lp","type":"quantitative","title":null},"text":{"field":"t"}}},
{"data":{"values":[{"t":"FLOW / U. S. Dollar, 1D, KRAKEN"}]},"mark":{"type":"text","font":"Liberation Sans","fontSize":7.5,"fontWeight":"bold","color":"#131722","align":"left","baseline":"middle"},
 "encoding":{"x":{"datum":{"year":2021,"month":1,"date":23,"utc":true},"type":"temporal"},"y":{"datum":47.33},"text":{"field":"t"}}},
{"data":{"values":[{"t":"MRHAB-B (, 1W, 60, 1.8)"}]},"mark":{"type":"text","font":"Liberation Sans","fontSize":7.5,"fontWeight":"bold","color":"#131722","align":"left","baseline":"middle"},
 "encoding":{"x":{"datum":{"year":2021,"month":1,"date":23,"utc":true},"type":"temporal"},"y":{"datum":46.2},"text":{"field":"t"}}}
]
},
{
"width":853,"height":42,
"resolve":{"scale":{"color":"independent","shape":"independent"}},
"layer":[
{"data":{"name":"candles"},"mark":{"type":"bar","width":3,"opacity":0.45},
 "encoding":{
  "x":{"field":"d","type":"temporal","title":null,
   "scale":{"type":"utc","domain":[{"year":2021,"month":1,"date":21,"hours":15,"utc":true},{"year":2021,"month":8,"date":11,"utc":true}]},
   "axis":{"labels":false,"ticks":false,"domain":false,"grid":true,"gridColor":"#eef0f4","title":null,
    "values":[{"year":2021,"month":2,"date":1,"utc":true},{"year":2021,"month":3,"date":1,"utc":true},{"year":2021,"month":4,"date":1,"utc":true},{"year":2021,"month":5,"date":1,"utc":true},{"year":2021,"month":6,"date":1,"utc":true},{"year":2021,"month":7,"date":1,"utc":true},{"year":2021,"month":8,"date":1,"utc":true}]}},
  "y":{"field":"v","type":"quantitative","title":null,"scale":{"domain":[-6,120],"nice":false},
   "axis":{"orient":"right","title":null,"values":[0],"format":"d","ticks":false,"domain":true,"domainColor":"#d1d4dc","labelPadding":10,"grid":false}},
  "color":{"condition":{"test":"datum.c >= datum.o","value":"#26a69a"},"value":"#ef5350"}}},
{"data":{"values":[{}]},"mark":{"type":"rule","color":"#d1d4dc","strokeWidth":1},"encoding":{"y":{"datum":120}}},
{"data":{"name":"volc"},"mark":{"type":"area","opacity":0.45,"interpolate":"monotone"},
 "encoding":{"x":{"field":"d","type":"temporal","title":null},"y":{"field":"u","type":"quantitative","title":null},"y2":{"field":"lo"},"detail":{"field":"g"},
  "color":{"field":"c","type":"nominal","scale":{"domain":["up","dn"],"range":["#81c784","#f48f8f"]},"legend":null}}},
{"data":{"name":"volc"},"mark":{"type":"line","strokeWidth":1,"interpolate":"monotone"},
 "encoding":{"x":{"field":"d","type":"temporal","title":null},"y":{"field":"m","type":"quantitative","title":null},"detail":{"field":"g"},
  "color":{"field":"c","type":"nominal","scale":{"domain":["up","dn"],"range":["#4db6ac","#e57373"]},"legend":null}}},
{"data":{"name":"voltri"},"mark":{"type":"point","filled":true,"size":28,"opacity":1},
 "encoding":{"x":{"field":"d","type":"temporal","title":null},"y":{"datum":90},
  "shape":{"field":"t","type":"nominal","scale":{"domain":["up","dn"],"range":["triangle-up","triangle-down"]},"legend":null},
  "color":{"field":"t","type":"nominal","scale":{"domain":["up","dn"],"range":["#1b7a1b","#e02020"]},"legend":null}}},
{"data":{"values":[{"t":"Volume (26)"}]},"mark":{"type":"text","font":"Liberation Sans","fontSize":7.5,"color":"#131722","align":"left","baseline":"middle"},
 "encoding":{"x":{"datum":{"year":2021,"month":1,"date":23,"utc":true},"type":"temporal"},"y":{"datum":96},"text":{"field":"t"}}}
]
},
{
"width":853,"height":58,
"resolve":{"scale":{"color":"independent","shape":"independent","strokeDash":"independent"}},
"layer":[
{"data":{"values":[{"y":80,"s":"dash"},{"y":20,"s":"dash"},{"y":50,"s":"solid"}]},"mark":{"type":"rule","color":"#a3a6ae","strokeWidth":1},
 "encoding":{
  "y":{"field":"y","type":"quantitative","title":null,"scale":{"domain":[-15.9,115.9],"nice":false,"zero":false},
   "axis":{"orient":"right","title":null,"values":[0,50,100],"format":".3f","ticks":false,"domain":true,"domainColor":"#d1d4dc","labelPadding":10,"grid":false}},
  "strokeDash":{"field":"s","type":"nominal","scale":{"domain":["solid","dash"],"range":[[1,0],[4,4]]},"legend":null}}},
{"data":{"values":[{}]},"mark":{"type":"rule","color":"#d1d4dc","strokeWidth":1},"encoding":{"y":{"datum":115.9}}},
{"data":{"name":"rsiband"},"mark":{"type":"line","strokeWidth":5,"opacity":0.42,"strokeCap":"round"},
 "encoding":{
  "x":{"field":"d","type":"temporal","title":null,
   "scale":{"type":"utc","domain":[{"year":2021,"month":1,"date":21,"hours":15,"utc":true},{"year":2021,"month":8,"date":11,"utc":true}]},
   "axis":{"labels":false,"ticks":false,"domain":false,"grid":true,"gridColor":"#eef0f4","title":null,
    "values":[{"year":2021,"month":2,"date":1,"utc":true},{"year":2021,"month":3,"date":1,"utc":true},{"year":2021,"month":4,"date":1,"utc":true},{"year":2021,"month":5,"date":1,"utc":true},{"year":2021,"month":6,"date":1,"utc":true},{"year":2021,"month":7,"date":1,"utc":true},{"year":2021,"month":8,"date":1,"utc":true}]}},
  "y":{"field":"v","type":"quantitative","title":null},"detail":{"field":"g"},
  "color":{"field":"c","type":"nominal","scale":{"domain":["up","dn"],"range":["#4caf50","#f07a7a"]},"legend":null}}},
{"data":{"name":"rsigray"},"mark":{"type":"line","color":"#b0b3ba","strokeWidth":0.8,"interpolate":"monotone"},
 "encoding":{"x":{"field":"d","type":"temporal","title":null},"y":{"field":"v","type":"quantitative","title":null}}},
{"data":{"name":"rsisig"},"mark":{"type":"line","strokeWidth":1.6,"interpolate":"monotone"},
 "encoding":{"x":{"field":"d","type":"temporal","title":null},"y":{"field":"v","type":"quantitative","title":null},"detail":{"field":"g"},
  "color":{"field":"c","type":"nominal","scale":{"domain":["up","dn"],"range":["#26d4e0","#d32f2f"]},"legend":null}}},
{"data":{"name":"rsitri"},"mark":{"type":"point","filled":true,"size":26,"opacity":1},
 "encoding":{"x":{"field":"d","type":"temporal","title":null},"y":{"field":"v","type":"quantitative","title":null},
  "shape":{"field":"t","type":"nominal","scale":{"domain":["up","dn"],"range":["triangle-up","triangle-down"]},"legend":null},
  "color":{"field":"t","type":"nominal","scale":{"domain":["up","dn"],"range":["#1b7a1b","#e02020"]},"legend":null}}},
{"data":{"values":[{"t":"wRSI_SR"}]},"mark":{"type":"text","font":"Liberation Sans","fontSize":7.5,"color":"#131722","align":"left","baseline":"middle"},
 "encoding":{"x":{"datum":{"year":2021,"month":1,"date":23,"utc":true},"type":"temporal"},"y":{"datum":96},"text":{"field":"t"}}}
]
},
{
"width":853,"height":38,
"layer":[
{"data":{"values":[{}]},"mark":{"type":"rect","color":"#f4ece3"},
 "encoding":{"y":{"datum":0,"type":"quantitative","scale":{"domain":[-109.4,9.4],"nice":false,"zero":false},
   "axis":{"orient":"right","title":null,"values":[-100,0],"format":".3f","ticks":false,"domain":true,"domainColor":"#d1d4dc","labelPadding":10,"grid":false}},
  "y2":{"datum":-106}}},
{"data":{"values":[{}]},"mark":{"type":"rule","color":"#d1d4dc","strokeWidth":1},"encoding":{"y":{"datum":9.4}}},
{"data":{"name":"cci"},"mark":{"type":"line","color":"#e53935","strokeWidth":1.3},
 "encoding":{
  "x":{"field":"d","type":"temporal","title":null,
   "scale":{"type":"utc","domain":[{"year":2021,"month":1,"date":21,"hours":15,"utc":true},{"year":2021,"month":8,"date":11,"utc":true}]},
   "axis":{"labels":true,"ticks":false,"domain":false,"grid":true,"gridColor":"#eef0f4","title":null,"format":"%b","labelPadding":6,"labelFontSize":11,
    "values":[{"year":2021,"month":2,"date":1,"utc":true},{"year":2021,"month":3,"date":1,"utc":true},{"year":2021,"month":4,"date":1,"utc":true},{"year":2021,"month":5,"date":1,"utc":true},{"year":2021,"month":6,"date":1,"utc":true},{"year":2021,"month":7,"date":1,"utc":true},{"year":2021,"month":8,"date":1,"utc":true}]}},
  "y":{"field":"v","type":"quantitative","title":null}}},
{"data":{"values":[{"t":"CCI-RC"}]},"mark":{"type":"text","font":"Liberation Sans","fontSize":7.5,"color":"#131722","align":"left","baseline":"middle"},
 "encoding":{"x":{"datum":{"year":2021,"month":1,"date":23,"utc":true},"type":"temporal"},"y":{"datum":-9},"text":{"field":"t"}}}
]
}
]
}
